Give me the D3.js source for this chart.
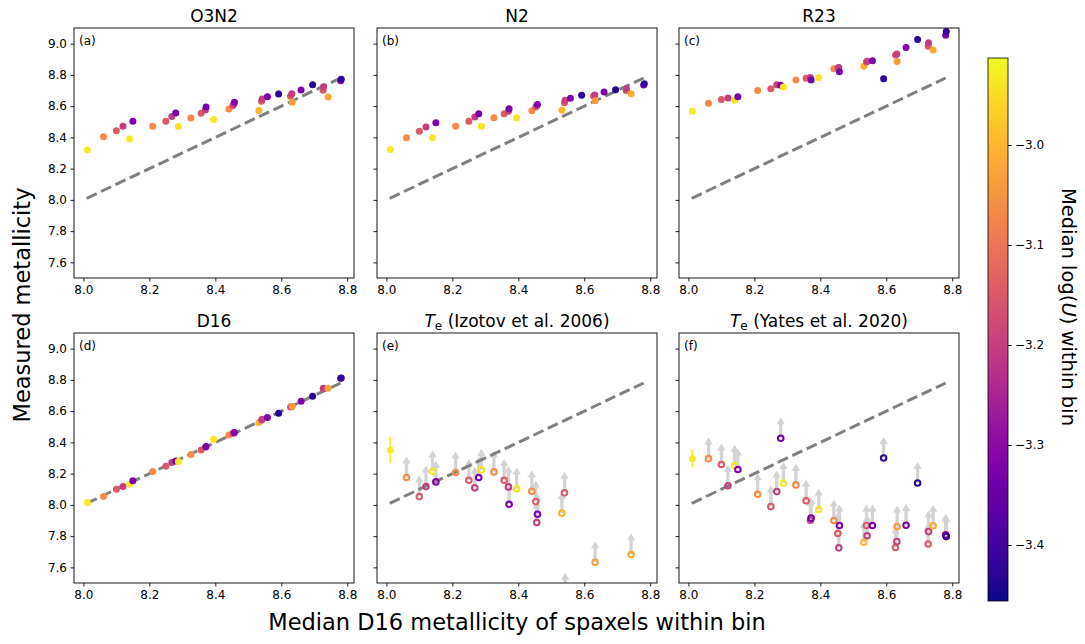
<!DOCTYPE html>
<html><head><meta charset="utf-8">
<script src="https://cdn.jsdelivr.net/npm/d3@7"></script>
<style>body{margin:0;background:#fff} svg{font-family:"DejaVu Sans",sans-serif}</style>
</head><body><svg id="c" width="1085" height="644"></svg>
<script>
// ---- data ----
const xD16 = [8.012,8.061,8.100,8.120,8.140,8.150,8.210,8.250,8.268,8.280,8.288,8.326,8.357,8.370,8.372,8.395,8.441,8.453,8.456,8.458,8.532,8.540,8.542,8.558,8.592,8.628,8.632,8.633,8.660,8.695,8.727,8.728,8.742,8.780,8.782];
const logU = [-2.93,-3.065,-3.15,-3.2,-2.935,-3.32,-3.065,-3.15,-3.2,-3.33,-2.94,-3.065,-3.15,-3.2,-3.33,-2.94,-3.065,-3.15,-3.2,-3.32,-3.0,-3.15,-3.2,-3.32,-3.43,-3.15,-3.2,-3.04,-3.32,-3.43,-3.15,-3.2,-3.02,-3.32,-3.42];
const yO3N2 = [8.32,8.404,8.442,8.472,8.389,8.504,8.472,8.504,8.534,8.556,8.47,8.524,8.555,8.575,8.594,8.515,8.582,8.603,8.612,8.625,8.572,8.632,8.646,8.66,8.677,8.664,8.68,8.625,8.703,8.737,8.701,8.724,8.658,8.762,8.772];
const yN2 = [8.323,8.397,8.44,8.466,8.397,8.494,8.472,8.504,8.53,8.551,8.472,8.526,8.551,8.568,8.583,8.526,8.57,8.594,8.605,8.611,8.573,8.622,8.637,8.65,8.669,8.665,8.671,8.635,8.69,8.705,8.70,8.712,8.68,8.735,8.744];
const yR23 = [8.568,8.618,8.643,8.652,8.637,8.66,8.70,8.712,8.737,8.733,8.722,8.767,8.778,8.784,8.767,8.782,8.84,8.844,8.848,8.82,8.855,8.882,8.888,8.891,8.776,8.927,8.933,8.885,8.976,9.026,8.983,9.006,8.959,9.053,9.077];
const yD16 = [8.015,8.053,8.10,8.117,8.132,8.154,8.213,8.247,8.271,8.281,8.277,8.322,8.352,8.369,8.373,8.42,8.448,8.458,8.46,8.463,8.527,8.542,8.548,8.559,8.586,8.627,8.629,8.631,8.663,8.695,8.744,8.746,8.746,8.81,8.812];
const yTeI06 = [8.352,8.175,8.053,8.117,8.215,8.147,8.207,8.158,8.109,8.175,8.224,8.211,8.158,8.115,8.004,8.104,8.087,8.021,7.887,7.94,7.947,8.077,7.43,null,null,null,null,7.633,null,null,null,null,7.682,null,null];
const errTeI06 = [0.083];   // index 0 is a detection, the rest are lower limits
const yTeY20 = [8.296,8.296,8.258,8.122,8.25,8.226,8.068,7.989,8.085,8.426,8.139,8.128,8.026,7.902,7.915,7.97,7.90,7.817,7.725,7.868,7.761,7.868,7.802,7.868,8.30,7.727,7.765,7.861,7.87,8.14,7.75,7.829,7.866,7.808,7.797];
const errTeY20 = [0.056];
const oneToOne = [8.01, 8.78];
const xTicks = [8.0, 8.2, 8.4, 8.6, 8.8];
const yTicks = [7.6, 7.8, 8.0, 8.2, 8.4, 8.6, 8.8, 9.0];
const cbTicks = [-3.0, -3.1, -3.2, -3.3, -3.4];
const titles = ["O3N2", "N2", "R23", "D16", "Izotov et al. 2006", "Yates et al. 2020"];
const letters = ["(a)", "(b)", "(c)", "(d)", "(e)", "(f)"];

// ---- layout ----
const svg = d3.select("#c");
const colX = [74, 377, 679], rowY = [28, 333], W = 280, H = 250;
const x = d3.scaleLinear().domain([7.9715, 8.8205]).range([0, W]);
const y = d3.scaleLinear().domain([7.5, 9.1]).range([H, 0]);
const cdom = [-3.456, -2.913];
const color = v => d3.interpolatePlasma((v - cdom[0]) / (cdom[1] - cdom[0]));
const fmt = d => d3.format(".1f")(d).replace("-", "\u2212");

const panels = [
  {ys: yO3N2}, {ys: yN2}, {ys: yR23}, {ys: yD16},
  {ys: yTeI06, err: errTeI06, te: true}, {ys: yTeY20, err: errTeY20, te: true}
];
const defs = svg.append("defs");
panels.forEach((p, i) => {
  const c = i % 3, r = Math.floor(i / 3);
  const g = svg.append("g").attr("transform", `translate(${colX[c]},${rowY[r]})`);
  defs.append("clipPath").attr("id", "clip" + i).append("rect").attr("width", W).attr("height", H);
  const inner = g.append("g").attr("clip-path", `url(#clip${i})`);

  const idx = d3.range(xD16.length).filter(k => p.ys[k] != null);
  const det = k => p.err && p.err[k] != null;
  if (p.te) {
    const L = 0.135;
    const lim = idx.filter(k => !det(k));
    lim.forEach(k => {
      const cx = x(xD16[k]), y0 = y(p.ys[k]), yt = y(p.ys[k] + L);
      inner.append("line").attr("x1", cx).attr("x2", cx).attr("y1", y0).attr("y2", yt + 6)
        .attr("stroke", "#d3d3d3").attr("stroke-width", 3.3);
      inner.append("path").attr("d", `M${cx - 4.2},${yt + 7}L${cx},${yt}L${cx + 4.2},${yt + 7}Z`)
        .attr("fill", "#d3d3d3");
    });
  }
  inner.append("line").attr("x1", x(oneToOne[0])).attr("y1", y(oneToOne[0]))
    .attr("x2", x(oneToOne[1])).attr("y2", y(oneToOne[1]))
    .attr("stroke", "#808080").attr("stroke-width", 3).attr("stroke-dasharray", "11.1,4.8");
  idx.forEach(k => {
    const cx = x(xD16[k]), cy = y(p.ys[k]);
    if (!p.te) {
      inner.append("circle").attr("cx", cx).attr("cy", cy).attr("r", 3.5).attr("fill", color(logU[k]));
    } else if (det(k)) {
      inner.append("line").attr("x1", cx).attr("x2", cx).attr("y1", y(p.ys[k] - p.err[k])).attr("y2", y(p.ys[k] + p.err[k]))
        .attr("stroke", color(logU[k])).attr("stroke-width", 1.8);
      inner.append("circle").attr("cx", cx).attr("cy", cy).attr("r", 3.5).attr("fill", color(logU[k]));
    } else {
      inner.append("circle").attr("cx", cx).attr("cy", cy).attr("r", 2.8).attr("fill", "none")
        .attr("stroke", color(logU[k])).attr("stroke-width", 2);
    }
  });

  // axes
  const xa = g.append("g").attr("transform", `translate(0,${H})`)
    .call(d3.axisBottom(x).tickValues(xTicks).tickSize(3.5).tickPadding(3.5).tickFormat(d3.format(".1f")));
  const ya = g.append("g")
    .call(d3.axisLeft(y).tickValues(yTicks).tickSize(3.5).tickPadding(3.5).tickFormat(c === 0 ? d3.format(".1f") : ""));
  [xa, ya].forEach(a => {
    a.select(".domain").remove();
    a.selectAll("text").attr("font-size", 12).attr("font-family", "DejaVu Sans").attr("fill", "#000");
    a.selectAll("line").attr("stroke", "#000").attr("stroke-width", 0.9);
  });
  g.append("rect").attr("width", W).attr("height", H).attr("fill", "none").attr("stroke", "#000").attr("stroke-width", 0.9);

  g.append("text").attr("x", 5).attr("y", 17).attr("font-size", 12).text(letters[i]);
  const t = g.append("text").attr("x", W / 2).attr("y", -6).attr("text-anchor", "middle").attr("font-size", 17);
  if (p.te) {
    t.append("tspan").attr("font-style", "italic").text("T");
    t.append("tspan").attr("font-size", 12).attr("dy", 3).text("e");
    t.append("tspan").attr("dy", -3).text(" (" + titles[i] + ")");
  } else t.text(titles[i]);
});

// global labels
svg.append("text").attr("transform", "translate(30,305) rotate(-90)").attr("text-anchor", "middle")
  .attr("font-size", 22.5).text("Measured metallicity");
svg.append("text").attr("x", 517).attr("y", 630).attr("text-anchor", "middle")
  .attr("font-size", 22.5).text("Median D16 metallicity of spaxels within bin");

// colorbar
const cbX = 988, cbW = 20, cbTop = 58, cbBot = 601;
const cy = d3.scaleLinear().domain(cdom).range([cbBot, cbTop]);
const grad = defs.append("linearGradient").attr("id", "cbg").attr("x1", 0).attr("y1", 1).attr("x2", 0).attr("y2", 0);
d3.range(0, 1.0001, 0.05).forEach(t => grad.append("stop").attr("offset", t).attr("stop-color", d3.interpolatePlasma(t)));
svg.append("rect").attr("x", cbX).attr("y", cbTop).attr("width", cbW).attr("height", cbBot - cbTop).attr("fill", "url(#cbg)")
  .attr("stroke", "#000").attr("stroke-width", 0.8);
const cba = svg.append("g").attr("transform", `translate(${cbX + cbW},0)`)
  .call(d3.axisRight(cy).tickValues(cbTicks).tickSize(3.5).tickPadding(3.5).tickFormat(fmt));
cba.select(".domain").remove();
cba.selectAll("text").attr("font-size", 12).attr("font-family", "DejaVu Sans").attr("fill", "#000");
cba.selectAll("line").attr("stroke", "#000");
const cl = svg.append("text").attr("transform", `translate(1062,307) rotate(90)`).attr("text-anchor", "middle")
  .attr("font-size", 19.5);
cl.append("tspan").text("Median log(");
cl.append("tspan").attr("font-style", "italic").text("U");
cl.append("tspan").text(") within bin");
</script></body></html>
